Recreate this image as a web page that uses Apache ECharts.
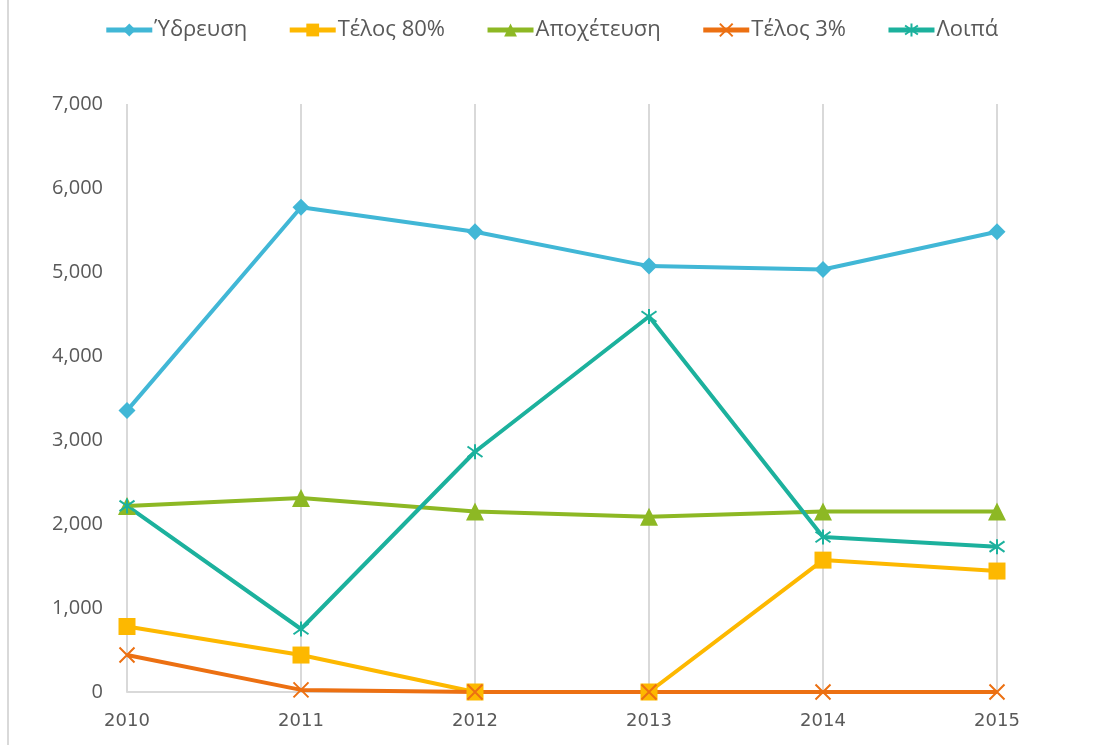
<!DOCTYPE html>
<html><head><meta charset="utf-8">
<script src="https://cdn.jsdelivr.net/npm/echarts@6/dist/echarts.min.js"></script>
<style>html,body{margin:0;padding:0;background:#fff}#c{width:1102px;height:745px}</style>
</head><body><div id="c"></div>
<script>
const years = ['2010','2011','2012','2013','2014','2015'];
const seriesNames = ['Ύδρευση','Τέλος 80%','Αποχέτευση','Τέλος 3%','Λοιπά'];
const ydreusi = [3350, 5770, 5480, 5070, 5030, 5480];
const telos80 = [780, 440, 0, 0, 1570, 1440];
const apoxeteusi = [2215, 2310, 2150, 2085, 2150, 2150];
const telos3 = [440, 25, 0, 0, 0, 0];
const loipa = [2215, 750, 2860, 4470, 1845, 1730];
const yTicks = [0, 1000, 2000, 3000, 4000, 5000, 6000, 7000];

const colors = ['#41B7D6','#FDB800','#8DB824','#EC7012','#1CB19D'];
const symbols = ['diamond','rect','triangle',
  'path://M0,0L10,10M10,0L0,10',
  'path://M5,0L5,10M0,1.5L10,8.5M10,1.5L0,8.5'];
const sizes = [17, 17, 18, 15, 15];
const datas = [ydreusi, telos80, apoxeteusi, telos3, loipa];

const chart = echarts.init(document.getElementById('c'));
chart.setOption({
  animation:false,
  textStyle:{fontFamily:'Open Sans'},
  legend:{
    top:14, left:'center', itemWidth:46, itemHeight:16, itemGap:40,
    lineStyle:{width:5},
    textStyle:{fontSize:22, color:'#595959', fontFamily:'Open Sans', padding:[0,0,0,-3]},
    data:seriesNames
  },
  graphic:[{type:'line', shape:{x1:8,y1:0,x2:8,y2:745}, style:{stroke:'#D9D9D9', lineWidth:2}}],
  grid:{left:127, right:105, top:104, bottom:53},
  xAxis:{
    type:'category', data:years, boundaryGap:false,
    axisLine:{lineStyle:{color:'#D9D9D9', width:2}},
    axisTick:{show:false},
    splitLine:{show:true, lineStyle:{color:'#D9D9D9', width:2}},
    axisLabel:{color:'#595959', fontSize:18, margin:20, fontFamily:'DejaVu Sans'}
  },
  yAxis:{
    type:'value', min:0, max:7000, interval:1000,
    axisLine:{show:false}, axisTick:{show:false}, splitLine:{show:false},
    axisLabel:{color:'#595959', fontSize:20, margin:24,
      formatter:v=>v.toLocaleString('en-US')}
  },
  series: seriesNames.map((n,i)=>({
    name:n, type:'line', data:datas[i],
    symbol:symbols[i], symbolSize:sizes[i],
    lineStyle:{color:colors[i], width:4},
    itemStyle:{color: i>=3 ? 'none' : colors[i], borderColor:colors[i], borderWidth: i>=3 ? 2 : 0},
    z: 2
  }))
});
</script></body></html>
